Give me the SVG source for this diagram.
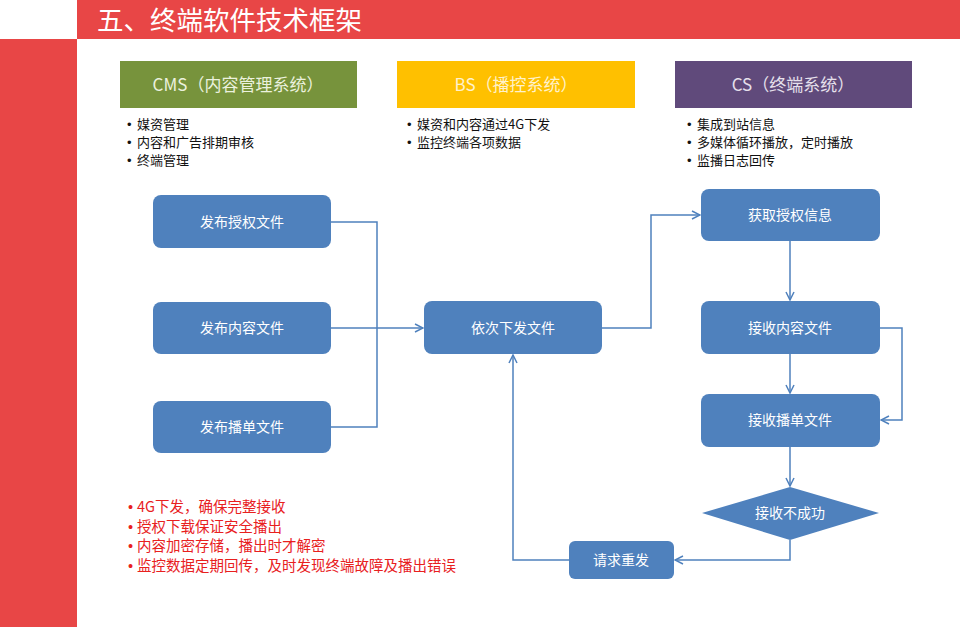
<svg xmlns="http://www.w3.org/2000/svg" width="960" height="627" viewBox="0 0 960 627">
<defs>
<marker id="arr" viewBox="0 0 10 10" refX="9" refY="5" markerWidth="10" markerHeight="10" markerUnits="userSpaceOnUse" orient="auto">
<path d="M1,1 L9,5 L1,9" fill="none" stroke="#4F81BD" stroke-width="1.5"/>
</marker>
</defs>
<style>
text{font-family:"Microsoft YaHei","Noto Sans CJK SC","Noto Sans",sans-serif}
.dot{font-family:"Liberation Sans",sans-serif}
.box{fill:#4F81BD}
.bt{fill:#FFFFFF;font-size:14px;text-anchor:middle}
.ht{font-size:17px;text-anchor:middle}
.bl{fill:#111111;font-size:13px}
.rl{fill:#E8201E;font-size:14.5px}
.c{fill:none;stroke:#4F81BD;stroke-width:1.5}
</style>
<rect x="0" y="0" width="960" height="627" fill="#FFFFFF"/>
<rect x="77" y="0" width="883" height="39" fill="#E84646"/>
<rect x="0" y="39" width="77" height="588" fill="#E84646"/>
<text x="97" y="30" fill="#FFFFFF" font-size="26.5px">五、终端软件技术框架</text>

<g id="cms-header">
<rect x="120" y="61" width="237" height="47" fill="#77933C"/>
<text class="ht" x="238" y="91" fill="#EBF1DE">CMS（内容管理系统）</text>
</g>
<g id="bs-header">
<rect x="397" y="61" width="238" height="47" fill="#FFC000"/>
<text class="ht" x="516" y="91" fill="#FFF2CC">BS（播控系统）</text>
</g>
<g id="cs-header">
<rect x="675" y="61" width="237" height="47" fill="#604A7B"/>
<text class="ht" x="793" y="91" fill="#E6E0EC">CS（终端系统）</text>
</g>

<g id="cms-notes">
<text class="bl"><tspan class="dot" x="127" y="128.5">•</tspan><tspan x="137" y="128.5">媒资管理</tspan><tspan class="dot" x="127" y="146.5">•</tspan><tspan x="137" y="146.5">内容和广告排期审核</tspan><tspan class="dot" x="127" y="164.5">•</tspan><tspan x="137" y="164.5">终端管理</tspan></text>
</g>
<g id="bs-notes">
<text class="bl"><tspan class="dot" x="407" y="128.5">•</tspan><tspan x="417" y="128.5">媒资和内容通过4G下发</tspan><tspan class="dot" x="407" y="146.5">•</tspan><tspan x="417" y="146.5">监控终端各项数据</tspan></text>
</g>
<g id="cs-notes">
<text class="bl"><tspan class="dot" x="687" y="128.5">•</tspan><tspan x="697" y="128.5">集成到站信息</tspan><tspan class="dot" x="687" y="146.5">•</tspan><tspan x="697" y="146.5">多媒体循环播放，定时播放</tspan><tspan class="dot" x="687" y="164.5">•</tspan><tspan x="697" y="164.5">监播日志回传</tspan></text>
</g>

<g id="connectors">
<polyline class="c" points="331,222 377,222 377,427 331,427"/>
<line class="c" x1="331" y1="328" x2="423" y2="328" marker-end="url(#arr)"/>
<polyline class="c" points="602,328 651,328 651,215 700,215" marker-end="url(#arr)"/>
<line class="c" x1="790" y1="241" x2="790" y2="300" marker-end="url(#arr)"/>
<line class="c" x1="790" y1="354" x2="790" y2="393" marker-end="url(#arr)"/>
<polyline class="c" points="880,328 902,328 902,420 881,420" marker-end="url(#arr)"/>
<line class="c" x1="790" y1="447" x2="790" y2="486" marker-end="url(#arr)"/>
<polyline class="c" points="790,540 790,560 675,560" marker-end="url(#arr)"/>
<polyline class="c" points="569,560 513,560 513,355" marker-end="url(#arr)"/>
</g>

<g id="n-publish-auth"><rect class="box" x="153" y="195" width="178" height="53" rx="8"/><text class="bt" x="242" y="227">发布授权文件</text></g>
<g id="n-publish-content"><rect class="box" x="153" y="302" width="178" height="52" rx="8"/><text class="bt" x="242" y="333">发布内容文件</text></g>
<g id="n-publish-list"><rect class="box" x="153" y="401" width="178" height="52" rx="8"/><text class="bt" x="242" y="432">发布播单文件</text></g>
<g id="n-dispatch"><rect class="box" x="424" y="301" width="178" height="53" rx="8"/><text class="bt" x="513" y="333">依次下发文件</text></g>
<g id="n-get-auth"><rect class="box" x="701" y="189" width="179" height="52" rx="8"/><text class="bt" x="790" y="220">获取授权信息</text></g>
<g id="n-recv-content"><rect class="box" x="701" y="301" width="179" height="53" rx="8"/><text class="bt" x="790" y="333">接收内容文件</text></g>
<g id="n-recv-list"><rect class="box" x="701" y="394" width="179" height="53" rx="8"/><text class="bt" x="790" y="425">接收播单文件</text></g>
<g id="n-fail"><polygon class="box" points="790,487 879,513 790,540 702,513"/><text class="bt" x="790" y="518">接收不成功</text></g>
<g id="n-resend"><rect class="box" x="569" y="541" width="105" height="38" rx="6"/><text class="bt" x="621" y="565">请求重发</text></g>

<g id="red-notes">
<text class="rl"><tspan class="dot" x="128" y="512">•</tspan><tspan x="137" y="512">4G下发，确保完整接收</tspan><tspan class="dot" x="128" y="532">•</tspan><tspan x="137" y="532">授权下载保证安全播出</tspan><tspan class="dot" x="128" y="551">•</tspan><tspan x="137" y="551">内容加密存储，播出时才解密</tspan><tspan class="dot" x="128" y="571">•</tspan><tspan x="137" y="571">监控数据定期回传，及时发现终端故障及播出错误</tspan></text>
</g>
</svg>
